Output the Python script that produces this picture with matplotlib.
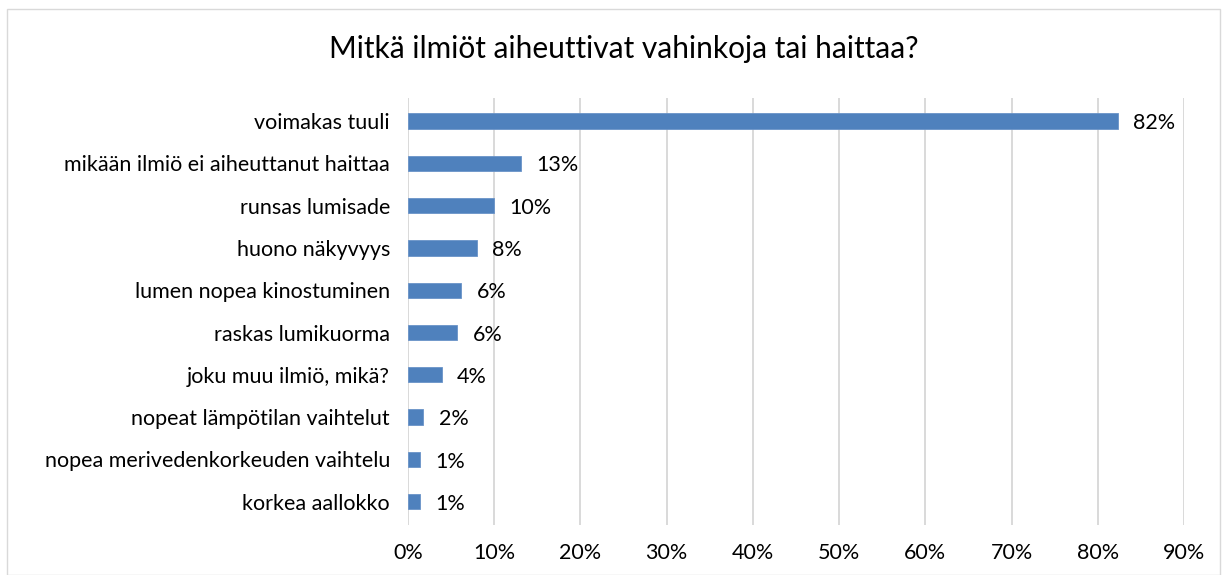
import matplotlib
matplotlib.use("Agg")
import matplotlib.pyplot as plt
from matplotlib.patches import Rectangle
from matplotlib.ticker import PercentFormatter

categories = [
    "voimakas tuuli",
    "mikään ilmiö ei aiheuttanut haittaa",
    "runsas lumisade",
    "huono näkyvyys",
    "lumen nopea kinostuminen",
    "raskas lumikuorma",
    "joku muu ilmiö, mikä?",
    "nopeat lämpötilan vaihtelut",
    "nopea merivedenkorkeuden vaihtelu",
    "korkea aallokko",
]
values = [0.823, 0.131, 0.100, 0.080, 0.062, 0.057, 0.039, 0.018, 0.014, 0.014]
labels = ["82%", "13%", "10%", "8%", "6%", "6%", "4%", "2%", "1%", "1%"]
title = "Mitkä ilmiöt aiheuttivat vahinkoja tai haittaa?"

plt.rcParams['font.family'] = ['Lato', 'DejaVu Sans']

fig = plt.figure(figsize=(12.24, 5.75), dpi=100)
ax = fig.add_axes([0.3333, 0.087, 0.6340, 0.743])

y = list(range(len(categories)))[::-1]
ax.barh(y, values, height=0.36, color="#4F81BD", edgecolor="#6A93C8", linewidth=0.6, zorder=3)
for yi, v, lab in zip(y, values, labels):
    ax.text(v + 0.018, yi - 0.05, lab, va="center", ha="left", fontsize=15.5, color="#000000")

ax.set_xlim(0, 0.9)
ax.set_ylim(-0.55, 9.55)
ax.set_xticks([i / 10 for i in range(10)])
ax.xaxis.set_major_formatter(PercentFormatter(1.0, decimals=0))
ax.set_yticks(y)
ax.set_yticklabels(categories, fontsize=15.5)
ax.tick_params(axis='x', labelsize=15.5, length=0, pad=13)
ax.tick_params(axis='y', length=0, pad=13)
ax.grid(axis='x', color="#D9D9D9", linewidth=1.4, zorder=0)
for s in ax.spines.values():
    s.set_visible(False)

fig.text(0.51, 0.915, title, ha="center", va="center", fontsize=21.5, color="#000000")
fig.patches.append(Rectangle((0.006, 0.0), 0.991, 0.985, transform=fig.transFigure,
                             fill=False, edgecolor="#D9D9D9", linewidth=1.0))

fig.savefig("out.png", dpi=100)
